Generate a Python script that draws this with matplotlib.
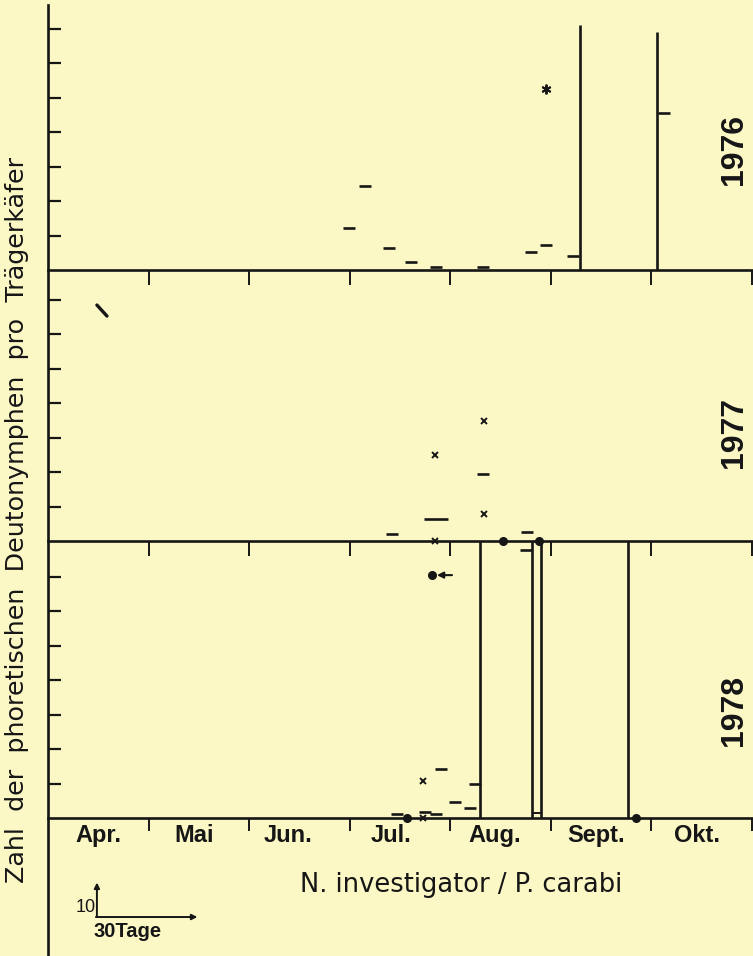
import matplotlib
matplotlib.use('Agg')
import matplotlib.pyplot as plt
from matplotlib.lines import Line2D

W, H = 753, 956
bg = '#fcf8c6'
ink = '#161616'

# x = days since 1. April (30-day months), y = Deutonymphen per Trägerkäfer
months = ['Apr.', 'Mai', 'Jun.', 'Jul.', 'Aug.', 'Sept.', 'Okt.']
month_ticks = [30, 60, 90, 120, 150, 180, 210]

# 1976
dash76_day = [89.9, 94.6, 101.8, 108.4, 115.8, 129.9, 144.2, 148.7, 156.7, 183.9]
dash76_val = [12.2, 24.3, 6.4, 2.3, 0.9, 0.9, 5.2, 7.2, 4.1, 45.5]
star76_day = [148.7]
star76_val = [52.5]
bar76_day = [158.8, 181.8]
bar76_top = [71.0, 69.0]

# 1977
slash77_day = [14.6, 17.6]
slash77_val = [68.4, 65.2]
cross77_day = [115.5, 130.1, 130.1, 115.5]
cross77_val = [24.9, 34.8, 7.8, 0.0]
dash77_day = [129.9, 102.7, 143.0]
dash77_val = [19.4, 2.0, 2.6]
longdash77_day = [115.8]
longdash77_val = [6.4]
dot77_day = [135.8, 146.6]
dot77_val = [0.0, 0.0]

# 1978
dot78_day = [114.6, 175.5, 107.2]
dot78_val = [70.4, 0.0, 0.0]
arrow78 = (120.6, 116.1, 70.4)
bar78_day = [129.0, 144.5, 147.2, 173.1]
bar78_top = [80.3, 80.3, 80.3, 80.3]
box78 = (144.5, 147.2, 1.4)
dash78_day = [127.5, 117.3, 121.5, 126.0, 104.2, 112.5, 115.8, 142.7]
dash78_val = [9.9, 14.2, 4.6, 2.9, 1.2, 1.7, 1.2, 77.7]
cross78_day = [111.9, 111.9]
cross78_val = [10.7, 0.0]

PX_DAY = 3.35
PX_UNIT = 3.45
LEFT = 48
label_day = [14.9, 43.6, 71.6, 102.4, 133.4, 163.6, 193.7]

fig = plt.figure(figsize=(W / 100, H / 100), dpi=100, facecolor=bg)


def panel(top, bottom):
    ax = fig.add_axes([LEFT / W, 1 - bottom / H, (W - LEFT) / W, (bottom - top) / H])
    ax.set_facecolor('none')
    ax.set_xlim(0, (W - LEFT) / PX_DAY)
    ymax = (bottom - top) / PX_UNIT
    ax.set_ylim(0, ymax)
    for s in ['top', 'right', 'left']:
        ax.spines[s].set_visible(False)
    ax.spines['bottom'].set_linewidth(1.9)
    ax.spines['bottom'].set_color(ink)
    ax.set_xticks(month_ticks)
    ax.set_yticks([v for v in range(10, 80, 10) if v < ymax])
    ax.tick_params(axis='y', direction='in', length=9, width=1.6, color=ink, labelleft=False)
    ax.tick_params(axis='x', direction='out', length=11, width=1.4, color=ink, labelbottom=False)
    return ax


def dashes(ax, d, v, ms=8.5):
    ax.plot(d, v, ls='none', marker='_', ms=ms, mew=1.9, color=ink, clip_on=False)


def crosses(ax, d, v):
    ax.plot(d, v, ls='none', marker='x', ms=4.5, mew=1.4, color=ink, clip_on=False)


def dots(ax, d, v):
    ax.plot(d, v, ls='none', marker='o', ms=5.5, color=ink, clip_on=False)


ax76 = panel(5, 270)
ax77 = panel(270, 541)
ax78 = panel(541, 818)
ax78.tick_params(axis='x', length=9)

# 1976
dashes(ax76, dash76_day, dash76_val)
ax76.plot(star76_day, star76_val, ls='none', marker=(6, 2, 0), ms=7, mew=1.4, color=ink)
ax76.vlines(bar76_day, 0, bar76_top, lw=1.9, color=ink)

# 1977
ax77.plot(slash77_day, slash77_val, lw=2.4, color=ink, solid_capstyle='round')
crosses(ax77, cross77_day, cross77_val)
dashes(ax77, dash77_day, dash77_val)
dashes(ax77, longdash77_day, longdash77_val, ms=17)
dots(ax77, dot77_day, dot77_val)

# 1978
ax78.vlines(bar78_day, 0, bar78_top, lw=1.9, color=ink, clip_on=False)
ax78.hlines(box78[2], box78[0], box78[1], lw=1.4, color=ink)
dashes(ax78, dash78_day, dash78_val)
crosses(ax78, cross78_day, cross78_val)
dots(ax78, dot78_day, dot78_val)
ax78.annotate('', xy=(arrow78[1], arrow78[2]), xytext=(arrow78[0], arrow78[2]),
              arrowprops=dict(arrowstyle='-|>', color=ink, lw=1.5, mutation_scale=9,
                              shrinkA=0, shrinkB=0))

# year labels
for ax, yr, yc in [(ax76, '1976', 0.453), (ax77, '1977', 0.402), (ax78, '1978', 0.39)]:
    ax.text(0.973, yc, yr, transform=ax.transAxes, rotation=90, ha='center', va='center',
            fontsize=23, fontweight='bold', family='Liberation Sans', color=ink)

# month labels
for m, d in zip(months, label_day):
    ax78.text(d, -5.0, m, ha='center', va='center', fontsize=17,
              fontweight='bold', family='Liberation Sans', color=ink, clip_on=False)

# full left axis line
fig.add_artist(Line2D([LEFT / W, LEFT / W], [1 - 5 / H, 0], transform=fig.transFigure,
                      lw=1.9, color=ink))

# scale bar: 30 Tage / 10
sx, sy = 14.6, -28.7
ax78.annotate('', xy=(sx + 30, sy), xytext=(sx - 0.3, sy), annotation_clip=False,
              arrowprops=dict(arrowstyle='-|>', color=ink, lw=1.4, mutation_scale=8,
                              shrinkA=0, shrinkB=0))
ax78.annotate('', xy=(sx, sy + 10), xytext=(sx, sy), annotation_clip=False,
              arrowprops=dict(arrowstyle='-|>', color=ink, lw=1.4, mutation_scale=8,
                              shrinkA=0, shrinkB=0))
ax78.text(sx - 0.2, sy + 2.7, '10', ha='right', va='center', fontsize=13,
          family='Liberation Sans', color=ink, clip_on=False)
ax78.text(sx - 1.0, sy - 4.2, '30Tage', ha='left', va='center', fontsize=14.5,
          fontweight='bold', family='Liberation Sans', color=ink, clip_on=False)

fig.text(461 / W, 1 - 885 / H, 'N. investigator / P. carabi', ha='center', va='center',
         fontsize=18.5, family='DejaVu Sans', color=ink)
fig.text(17 / W, 1 - 520 / H, 'Zahl  der  phoretischen  Deutonymphen  pro  Trägerkäfer',
         rotation=90, ha='center', va='center', fontsize=18.3, color=ink)

fig.savefig('out.png', dpi=100, facecolor=bg)
